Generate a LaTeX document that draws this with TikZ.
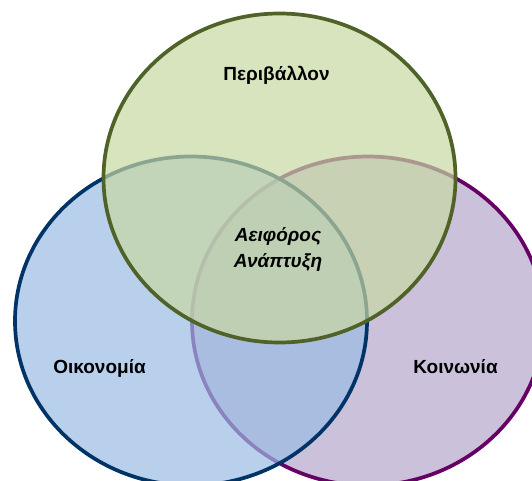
\documentclass[tikz,border=0pt]{standalone}
\usepackage{fontspec}
\setmainfont{Liberation Sans}
\usetikzlibrary{shapes.geometric}
\definecolor{envfill}{RGB}{199,216,162}
\definecolor{envline}{RGB}{79,98,40}
\definecolor{ecofill}{RGB}{155,188,228}
\definecolor{ecoline}{RGB}{0,51,102}
\definecolor{socfill}{RGB}{182,166,202}
\definecolor{socline}{RGB}{102,0,102}
\begin{document}
\begin{tikzpicture}[x=1pt,y=-1pt,
  venn/.style={ellipse, minimum width=352pt, minimum height=329pt, inner sep=0pt,
               line width=3.7pt, fill opacity=0.7, draw opacity=1},
  tag/.style={font=\fontsize{19}{23}\selectfont\bfseries, anchor=base, text=black},
  core/.style={font=\fontsize{19}{26}\selectfont\bfseries\itshape, anchor=base, align=center, text=black}]
\useasboundingbox (0,0) rectangle (532,481);
% three overlapping sets, bottom to top
\node[venn, draw=socline, fill=socfill] (soc) at (368,321) {};
\node[venn, draw=ecoline, fill=ecofill] (eco) at (191,321) {};
\node[venn, draw=envline, fill=envfill] (env) at (279.5,178) {};
% set names
\node[tag] (envtext) at (276.5,81) {Περιβάλλον};
\node[tag] (ecotext) at (99.5,373) {Οικονομία};
\node[tag] (soctext) at (455.5,373) {Κοινωνία};
% common core
\node[core] (coretext) at (278,267) {Αειφόρος\\Ανάπτυξη};
\end{tikzpicture}
\end{document}
